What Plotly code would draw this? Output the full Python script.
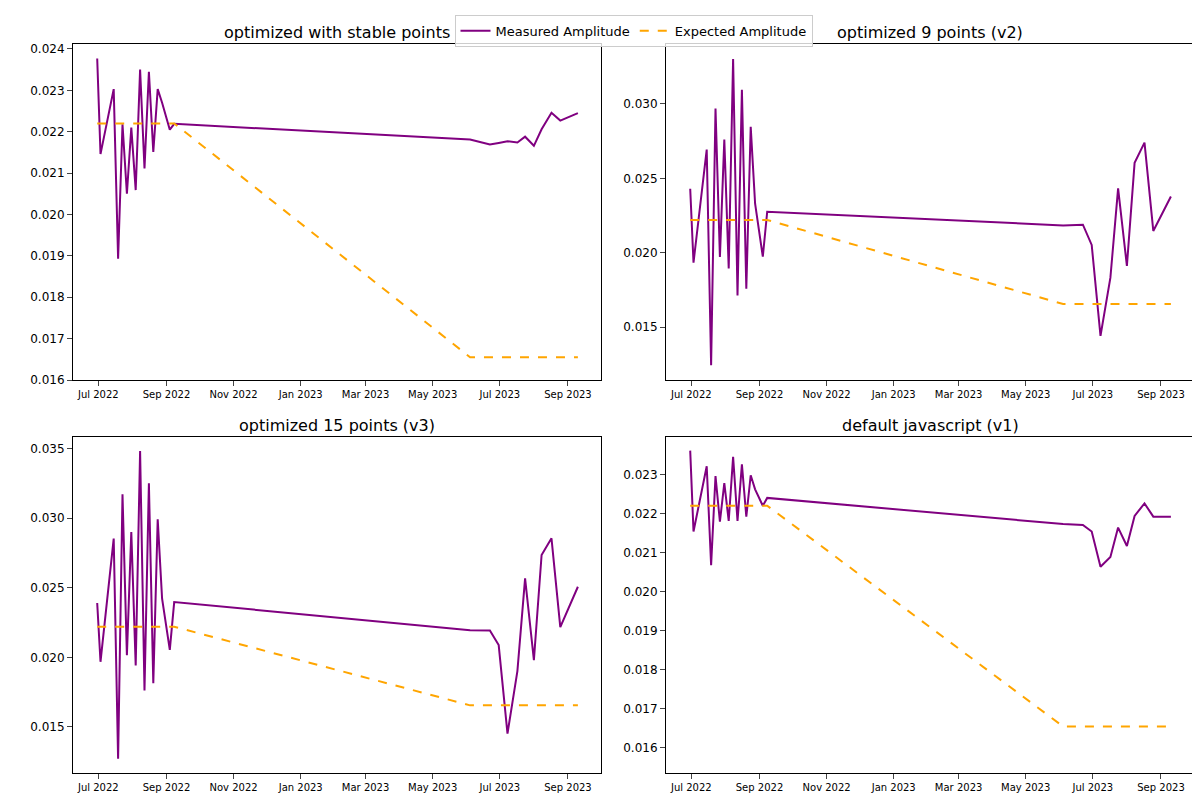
import plotly.graph_objects as go
from plotly.subplots import make_subplots

dates = ["2022-06-30", "2022-07-03", "2022-07-15", "2022-07-19", "2022-07-23", "2022-07-27",
         "2022-07-31", "2022-08-04", "2022-08-08", "2022-08-12", "2022-08-16", "2022-08-20",
         "2022-08-24", "2022-08-28", "2022-09-04", "2022-09-08",
         "2023-06-04", "2023-06-22", "2023-06-30", "2023-07-08", "2023-07-17", "2023-07-24",
         "2023-08-01", "2023-08-08", "2023-08-17", "2023-08-25", "2023-09-10"]

expected = [0.0222] * 16 + [0.01655] * 11

stable = [0.02377, 0.02146, 0.02303, 0.01893, 0.02218, 0.02050, 0.02210, 0.02059, 0.02350,
          0.02111, 0.02345, 0.02151, 0.02303, 0.02270, 0.02205, 0.02219,
          0.02181, 0.02169, 0.02173, 0.02177, 0.02174, 0.02188, 0.02166, 0.02206, 0.02246,
          0.02227, 0.02245]
v2 = [0.02430, 0.01933, 0.02693, 0.01244, 0.02969, 0.01971, 0.02760, 0.01893, 0.03302,
      0.01713, 0.03096, 0.01758, 0.02846, 0.02329, 0.01973, 0.02275,
      0.02183, 0.02188, 0.02052, 0.01441, 0.01832, 0.02432, 0.01911, 0.02604, 0.02740,
      0.02146, 0.02378]
v3 = [0.02390, 0.01968, 0.02853, 0.01272, 0.03171, 0.02016, 0.02901, 0.01941, 0.03483,
      0.01761, 0.03250, 0.01814, 0.02991, 0.02421, 0.02054, 0.02397,
      0.02195, 0.02193, 0.02088, 0.01452, 0.01901, 0.02567, 0.01980, 0.02735, 0.02855,
      0.02217, 0.02507]
v1 = [0.02361, 0.02154, 0.02321, 0.02068, 0.02296, 0.02179, 0.02278, 0.02181, 0.02345,
      0.02181, 0.02326, 0.02192, 0.02298, 0.02262, 0.02220, 0.02240,
      0.02173, 0.02171, 0.02154, 0.02064, 0.02089, 0.02164, 0.02117, 0.02194, 0.02226,
      0.02192, 0.02192]

titles = ["optimized with stable points", "optimized 9 points (v2)",
          "optimized 15 points (v3)", "default javascript (v1)"]
series = [stable, v2, v3, v1]
yranges = [[0.01599, 0.02412], [0.01141, 0.03403], [0.01169, 0.03586], [0.01536, 0.02397]]
ydticks = [0.001, 0.005, 0.005, 0.001]

fig = make_subplots(rows=2, cols=2, subplot_titles=titles,
                    horizontal_spacing=0.058, vertical_spacing=0.077)

for i, vals in enumerate(series):
    r, c = i // 2 + 1, i % 2 + 1
    fig.add_trace(go.Scatter(x=dates, y=vals, mode="lines", name="Measured Amplitude",
                             line=dict(color="purple", width=2), showlegend=(i == 0)),
                  row=r, col=c)
    fig.add_trace(go.Scatter(x=dates, y=expected, mode="lines", name="Expected Amplitude",
                             line=dict(color="orange", width=2, dash="dash"),
                             showlegend=(i == 0)),
                  row=r, col=c)
    fig.update_yaxes(range=yranges[i], dtick=ydticks[i], tickformat=".3f", row=r, col=c)

fig.update_xaxes(type="date", range=["2022-06-08", "2023-10-01"], tick0="2022-07-01",
                 dtick="M2", tickformat="%b %Y", tickfont=dict(size=10),
                 showline=True, linecolor="black", mirror=True, ticks="outside",
                 showgrid=False, zeroline=False)
fig.update_yaxes(showline=True, linecolor="black", mirror=True, ticks="outside",
                 showgrid=False, zeroline=False, tickfont=dict(size=12))
for a in fig.layout.annotations:
    a.font = dict(size=16, color="black")

fig.update_layout(
    width=1200, height=800, template="simple_white",
    font=dict(family="DejaVu Sans", color="black"),
    plot_bgcolor="white", paper_bgcolor="white",
    margin=dict(l=65, r=14, t=36, b=35, autoexpand=False),
    legend=dict(orientation="h", x=0.5, xanchor="center", y=1.04, yanchor="top",
                bordercolor="#cccccc", borderwidth=1,
                bgcolor="rgba(255,255,255,0.8)", font=dict(size=13)),
)

fig.write_html("out.html")
